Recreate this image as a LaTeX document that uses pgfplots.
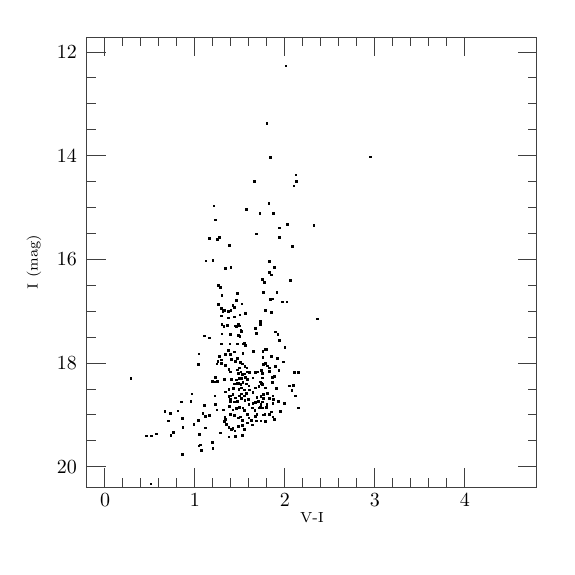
\documentclass[border=0pt]{standalone}
\usepackage{pgfplots}
\pgfplotsset{compat=1.18}
\begin{document}
\begin{tikzpicture}
\begin{axis}[
  scale only axis, width=225pt, height=225pt,
  xmin=-0.2, xmax=4.8, ymin=11.71, ymax=20.39,
  y dir=reverse,
  xtick={0,1,2,3,4}, ytick={12,14,16,18,20},
  minor x tick num=4, minor y tick num=3,
  xtick pos=both, ytick pos=both,
  xticklabel pos=lower, yticklabel pos=left,
  tick align=inside,
  major tick length=9.3pt, minor tick length=4.6pt,
  axis line style={black!75, line width=0.5pt},
  every tick/.style={black!75, line width=0.5pt},
  tick label style={font=\fontsize{10}{12}\selectfont},
  yticklabel style={xshift=-1.5pt},
  xlabel={V-I}, ylabel={I (mag)},
  every axis x label/.style={at={(axis description cs:0.5,-0.068)}, anchor=center, font=\fontsize{7.3}{9}\selectfont},
  every axis y label/.style={at={(axis description cs:-0.118,0.5)}, rotate=90, anchor=center, font=\fontsize{7.3}{9}\selectfont},
]
\addplot[only marks, mark=square*, mark size=0.42pt, black] table {
x y
2.01 12.27
1.80 13.38
1.84 14.03
2.95 14.02
2.12 14.37
2.13 14.49
1.66 14.49
2.10 14.58
1.82 14.92
1.21 14.97
1.57 15.04
1.72 15.11
1.87 15.11
1.23 15.24
1.94 15.39
2.03 15.33
2.32 15.35
1.68 15.51
1.94 15.58
1.16 15.59
1.27 15.57
1.25 15.62
1.38 15.73
2.08 15.75
1.12 16.03
1.20 16.02
1.34 16.17
1.40 16.15
1.83 16.04
1.88 16.15
1.83 16.25
1.85 16.30
1.75 16.39
1.77 16.44
2.06 16.40
1.26 16.50
1.28 16.54
1.30 16.69
1.47 16.65
1.76 16.64
1.91 16.64
1.46 16.79
1.84 16.77
1.86 16.76
1.97 16.82
2.02 16.82
1.26 16.87
1.42 16.89
1.52 16.86
1.29 16.94
1.44 16.93
1.31 17.00
1.33 16.99
1.37 17.00
1.40 16.99
1.56 17.04
1.78 16.98
1.85 17.02
1.29 17.09
1.50 17.07
1.37 17.13
1.44 17.11
2.36 17.15
1.73 17.19
1.73 17.25
1.30 17.26
1.32 17.29
1.36 17.27
1.45 17.28
1.46 17.30
1.48 17.26
1.49 17.28
1.67 17.33
1.51 17.36
1.108 17.474
1.045 17.822
1.037 18.029
0.289 18.293
0.967 18.596
0.956 18.738
0.848 18.751
0.667 18.931
0.730 18.964
0.811 18.925
0.860 19.067
0.704 19.112
0.867 19.234
0.760 19.337
0.734 19.389
0.460 19.402
0.515 19.402
0.571 19.363
1.108 18.815
1.089 18.970
1.115 19.022
1.037 19.099
0.989 19.183
1.115 19.247
1.052 19.370
1.045 19.60
1.06 19.58
1.07 19.68
0.860 19.763
0.51 20.33
1.300 17.435
1.393 17.448
1.482 17.461
1.515 17.384
1.500 17.487
1.682 17.423
1.470 17.629
1.533 17.629
1.548 17.616
1.563 17.655
1.389 17.629
1.296 17.629
1.163 17.513
1.370 17.758
1.341 17.835
1.396 17.835
1.437 17.784
1.533 17.809
1.652 17.771
1.274 17.874
1.256 17.964
1.296 17.938
1.296 18.003
1.244 18.016
1.407 17.925
1.452 17.964
1.474 17.913
1.504 17.990
1.530 18.016
1.556 18.067
1.496 18.093
1.578 18.093
1.341 18.042
1.378 18.119
1.393 18.170
1.470 18.132
1.482 18.196
1.511 18.170
1.526 18.222
1.548 18.209
1.578 18.170
1.607 18.183
1.674 18.183
1.696 18.170
1.326 18.312
1.230 18.274
1.193 18.351
1.222 18.364
1.252 18.351
1.407 18.312
1.459 18.325
1.489 18.299
1.519 18.299
1.559 18.274
1.585 18.312
1.644 18.287
1.437 18.403
1.467 18.390
1.489 18.390
1.511 18.415
1.533 18.377
1.570 18.403
1.600 18.441
1.378 18.506
1.341 18.557
1.430 18.493
1.489 18.506
1.519 18.480
1.548 18.519
1.607 18.519
1.674 18.480
1.711 18.454
1.378 18.648
1.400 18.635
1.422 18.609
1.452 18.673
1.496 18.635
1.519 18.596
1.548 18.635
1.570 18.583
1.644 18.570
1.689 18.660
1.222 18.635
1.393 18.699
1.393 18.751
1.437 18.751
1.474 18.738
1.519 18.686
1.556 18.725
1.593 18.699
1.644 18.777
1.674 18.764
1.704 18.738
1.230 18.802
1.244 18.905
1.319 18.905
1.385 18.841
1.422 18.905
1.459 18.880
1.496 18.854
1.533 18.867
1.548 18.918
1.600 18.802
1.637 18.867
1.667 18.918
1.711 18.867
1.163 19.009
1.333 19.035
1.341 19.086
1.326 19.125
1.393 18.996
1.437 19.009
1.482 19.060
1.504 19.035
1.526 19.099
1.585 18.996
1.600 19.060
1.630 19.099
1.674 19.022
1.689 18.996
1.348 19.176
1.378 19.241
1.407 19.280
1.422 19.254
1.444 19.305
1.482 19.215
1.526 19.202
1.548 19.280
1.585 19.151
1.637 19.189
1.682 19.112
1.281 19.344
1.378 19.421
1.452 19.408
1.526 19.396
1.193 19.525
1.200 19.640
1.897 17.40
1.920 17.44
1.941 17.564
2.000 17.693
1.778 17.732
1.800 17.732
1.756 17.771
1.756 17.887
1.852 17.874
1.919 17.913
1.986 17.977
1.763 18.029
1.786 18.003
1.808 18.054
1.823 18.093
1.897 18.067
1.823 18.158
1.741 18.145
1.749 18.196
1.934 18.145
2.104 18.183
2.149 18.183
1.860 18.274
1.882 18.261
1.749 18.287
1.726 18.364
1.741 18.390
1.749 18.415
1.860 18.377
2.052 18.441
2.097 18.428
1.786 18.480
1.904 18.493
2.075 18.532
1.808 18.583
1.763 18.609
1.734 18.648
1.867 18.635
2.112 18.635
1.830 18.686
1.874 18.699
1.763 18.686
1.926 18.738
1.993 18.777
1.749 18.751
1.734 18.802
1.800 18.802
1.867 18.777
1.756 18.867
1.793 18.854
1.726 18.854
2.149 18.867
1.852 18.944
1.949 18.931
1.756 19.000
1.778 18.983
1.823 18.996
1.867 19.035
1.882 19.086
1.734 19.112
1.786 19.125
};
\end{axis}
\path ([shift={(-43.5pt,-44pt)}]current axis.south west) rectangle ([shift={(19pt,18.5pt)}]current axis.north east);
\end{tikzpicture}
\end{document}
